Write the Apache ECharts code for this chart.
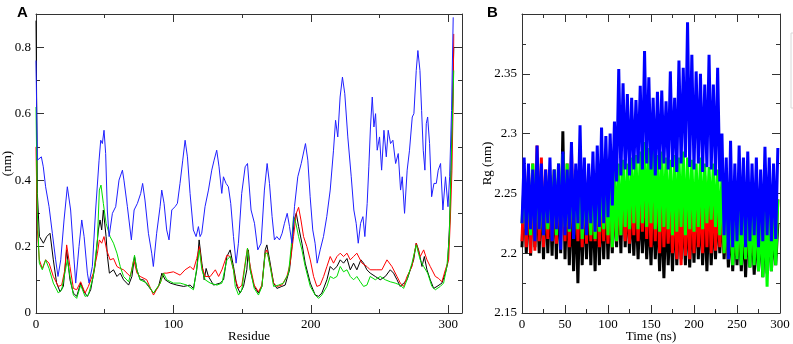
<!DOCTYPE html>
<html>
<head>
<meta charset="utf-8">
<script src="https://cdn.jsdelivr.net/npm/echarts@6/dist/echarts.min.js"></script>
<style>
  html, body { margin: 0; padding: 0; background: #fff; }
  #chart { width: 793px; height: 344px; }
</style>
</head>
<body>
<div id="chart"></div>
<script>
// ---- panel A: RMSF per residue, [residue, nm] ----
const rmsfBlack = [[0,0.88],[1,0.36],[2.5,0.23],[5.4,0.21],[7.8,0.23],[10.2,0.24],[12.6,0.16],[15,0.09],[17.5,0.064],[19.9,0.08],[22.3,0.19],[24.7,0.10],[27.2,0.06],[29.6,0.05],[32.5,0.09],[34.9,0.064],[37.4,0.05],[39.8,0.07],[42.9,0.14],[45.4,0.25],[46.6,0.28],[47.8,0.25],[49,0.31],[51,0.23],[52,0.17],[53.4,0.12],[56.4,0.13],[58.9,0.11],[61.3,0.12],[63.7,0.10],[67.4,0.084],[69.8,0.11],[71.7,0.17],[73.4,0.13],[75.8,0.10],[78.2,0.10],[81.9,0.08],[85.5,0.06],[89.2,0.08],[91.6,0.12],[94,0.10],[97.7,0.09],[102.5,0.084],[107.4,0.08],[112.2,0.084],[114.6,0.074],[117,0.13],[118.7,0.22],[120.7,0.15],[122.4,0.10],[123.8,0.134],[125.5,0.11],[129.2,0.084],[134,0.09],[136.5,0.10],[138.9,0.17],[141.3,0.19],[143.7,0.14],[146.2,0.08],[148.6,0.06],[151,0.08],[153.4,0.13],[154.5,0.19],[155.9,0.13],[158.8,0.08],[161.9,0.06],[164.4,0.08],[166.8,0.19],[168,0.205],[170,0.16],[172.9,0.09],[175.3,0.074],[178.9,0.08],[181.3,0.084],[184.5,0.13],[186.2,0.2],[187.9,0.28],[189.4,0.30],[191.1,0.26],[193.5,0.21],[195.9,0.15],[199.6,0.09],[203.2,0.054],[205.6,0.05],[208,0.06],[211.7,0.10],[214.1,0.14],[216.5,0.13],[219,0.14],[221.4,0.16],[223.8,0.15],[226.3,0.164],[228.7,0.13],[231.1,0.15],[233.5,0.13],[236.4,0.16],[238.4,0.15],[240.8,0.13],[243.2,0.12],[246.9,0.11],[250.5,0.10],[254.2,0.11],[257.8,0.13],[260.2,0.12],[262.7,0.10],[265.1,0.08],[267.5,0.09],[270,0.10],[272.4,0.13],[274.8,0.16],[276.7,0.21],[278.4,0.19],[280.9,0.14],[282.6,0.17],[284.5,0.13],[286.9,0.10],[289.4,0.074],[291.8,0.08],[295.4,0.09],[297.9,0.12],[299.6,0.15],[301.1,0.28],[302,0.43],[303,0.6],[304,0.8]];

const rmsfRed = [[0,0.5],[1,0.25],[2.4,0.16],[4.6,0.134],[7,0.16],[9.5,0.15],[12.6,0.11],[16.3,0.08],[18.7,0.084],[21,0.13],[22.3,0.205],[24.7,0.14],[27.2,0.074],[29.6,0.07],[32.5,0.094],[35.7,0.06],[38.1,0.08],[41.7,0.12],[44.7,0.18],[46.1,0.22],[47.8,0.21],[49.5,0.23],[51.4,0.19],[53.9,0.16],[56.4,0.164],[58.9,0.14],[61.3,0.134],[63.7,0.13],[66.2,0.12],[68.6,0.11],[71.1,0.16],[73.5,0.12],[75.8,0.11],[80.6,0.10],[85.5,0.054],[90.4,0.09],[92.8,0.12],[95.2,0.12],[100,0.124],[104.9,0.114],[108.5,0.13],[112.2,0.14],[114.6,0.13],[117,0.164],[118.9,0.2],[120.7,0.14],[123.1,0.11],[126.8,0.11],[130.5,0.13],[132.9,0.11],[135.3,0.13],[138.9,0.174],[141.3,0.17],[143.7,0.13],[145,0.10],[147.4,0.074],[149.8,0.084],[152.2,0.15],[153.9,0.195],[155.9,0.14],[158.8,0.084],[161.9,0.064],[164.4,0.084],[166.8,0.18],[168,0.19],[170,0.15],[172.9,0.09],[175.3,0.08],[178.9,0.084],[182.6,0.11],[185,0.15],[187.4,0.23],[189.4,0.30],[191.1,0.318],[192.8,0.28],[194.7,0.23],[197.1,0.20],[199.6,0.16],[202,0.11],[204.4,0.08],[206.8,0.084],[209.3,0.11],[211.7,0.14],[214.1,0.17],[216.5,0.15],[219,0.17],[221.4,0.18],[223.8,0.17],[226.3,0.18],[228.7,0.16],[231.1,0.17],[233.5,0.18],[237.2,0.15],[240.8,0.14],[243.2,0.13],[248.1,0.13],[251.7,0.13],[255.4,0.16],[259,0.14],[262.7,0.11],[265.1,0.09],[267.5,0.08],[270,0.11],[273.6,0.14],[276.7,0.21],[279.6,0.17],[282.1,0.19],[284.5,0.16],[286.9,0.14],[290.6,0.11],[293,0.104],[295.4,0.094],[297.9,0.13],[300.3,0.16],[301.5,0.28],[302.7,0.43],[303.5,0.62],[304,0.84]];

const rmsfGreen = [[0,0.62],[1,0.3],[2.4,0.15],[4.6,0.13],[7,0.16],[9.5,0.134],[12.6,0.09],[16.3,0.06],[18.7,0.07],[21,0.12],[22.8,0.16],[24.7,0.11],[27.2,0.054],[29.6,0.044],[32.5,0.084],[35.7,0.05],[38.1,0.054],[41.7,0.11],[44.7,0.22],[46.1,0.37],[47.3,0.385],[49,0.33],[51,0.27],[53.9,0.23],[56.4,0.21],[58.9,0.18],[61.3,0.14],[63.7,0.11],[67.4,0.094],[69.8,0.13],[71.7,0.174],[73.4,0.13],[75.8,0.10],[80.6,0.09],[85.5,0.06],[90.4,0.09],[92.8,0.12],[95.2,0.10],[100,0.09],[104.9,0.09],[109.8,0.084],[114.6,0.07],[117.5,0.15],[118.9,0.19],[120.7,0.13],[123.1,0.10],[126.8,0.09],[131.7,0.084],[135.3,0.09],[138.9,0.16],[141.3,0.17],[143.7,0.13],[145,0.08],[147.4,0.054],[149.8,0.07],[152.2,0.144],[153.9,0.195],[155.9,0.13],[158.8,0.074],[161.9,0.054],[164.4,0.08],[166.8,0.18],[168.5,0.18],[170.4,0.14],[172.9,0.08],[176.5,0.084],[180.1,0.09],[183.8,0.12],[185.7,0.2],[187.4,0.29],[189.1,0.27],[191.1,0.23],[193.5,0.19],[195.9,0.14],[199.6,0.08],[203.2,0.054],[205.6,0.044],[208,0.054],[211.7,0.08],[214.1,0.11],[216.5,0.104],[219,0.11],[221.4,0.14],[223.8,0.124],[226.3,0.13],[228.7,0.11],[231.1,0.10],[233.5,0.11],[236,0.094],[238.4,0.08],[240.8,0.084],[243.2,0.11],[246.9,0.10],[250.5,0.11],[254.2,0.10],[257.8,0.094],[261.4,0.09],[265.1,0.084],[267.5,0.074],[270,0.10],[273.6,0.15],[276.7,0.205],[279.6,0.16],[282.1,0.14],[285,0.12],[288.1,0.08],[290.6,0.07],[294.2,0.08],[296.6,0.09],[299,0.14],[300.8,0.23],[302,0.43],[303,0.58],[304,0.73]];

const rmsfBlue = [[0,0.76],[1,0.46],[3.9,0.47],[5.3,0.44],[7,0.38],[9.5,0.32],[11.9,0.24],[14.3,0.16],[16,0.11],[18,0.16],[20.4,0.28],[22.8,0.38],[25.2,0.31],[27.7,0.16],[28.9,0.09],[31.3,0.2],[33.3,0.28],[35,0.23],[37.4,0.12],[38.6,0.09],[41,0.14],[43.4,0.31],[45.9,0.46],[47.1,0.52],[48.3,0.51],[49.5,0.55],[50.7,0.48],[51.9,0.31],[53.2,0.23],[55.6,0.3],[58,0.32],[60.4,0.4],[62.9,0.43],[64,0.4],[66.5,0.32],[69.4,0.22],[71.4,0.31],[73.8,0.33],[76.2,0.36],[77.6,0.39],[79.3,0.34],[81.8,0.24],[84.2,0.18],[85.4,0.14],[87.8,0.24],[90.3,0.32],[91.5,0.37],[93.2,0.33],[95.1,0.25],[96.8,0.22],[98.8,0.31],[101.2,0.32],[102.9,0.33],[104.8,0.39],[106.8,0.46],[108.5,0.52],[110.2,0.47],[112.1,0.36],[114.5,0.25],[116.5,0.23],[118.2,0.26],[119.4,0.23],[120.6,0.24],[123,0.32],[125.5,0.37],[127.9,0.43],[129.6,0.46],[131.5,0.49],[133.2,0.44],[135.2,0.36],[136.4,0.41],[138.3,0.39],[140,0.38],[141.7,0.33],[143.7,0.23],[145.6,0.15],[147.3,0.21],[149.7,0.36],[152.2,0.44],[153.9,0.45],[156.5,0.31],[159,0.27],[161.4,0.19],[163.8,0.21],[166.2,0.37],[168.2,0.45],[169.9,0.39],[171.8,0.29],[173.5,0.22],[175.2,0.23],[177.2,0.22],[179.1,0.24],[180.8,0.27],[182.8,0.30],[184.5,0.26],[186.2,0.21],[188.1,0.32],[190.5,0.41],[193,0.45],[196.1,0.51],[197.8,0.46],[199.5,0.35],[201.4,0.25],[203.1,0.21],[204.6,0.15],[206.8,0.19],[209.2,0.23],[211.6,0.29],[214.1,0.37],[216.5,0.49],[218,0.58],[219.6,0.53],[221.3,0.65],[223,0.71],[224.7,0.66],[226.9,0.53],[229.4,0.41],[231.3,0.31],[233,0.27],[234.5,0.21],[236.2,0.27],[237.9,0.29],[239.3,0.23],[241,0.33],[242.2,0.44],[243.4,0.56],[244.7,0.65],[245.9,0.56],[247.1,0.60],[248.3,0.49],[250,0.53],[251.5,0.43],[253.2,0.55],[254.9,0.47],[256.3,0.55],[258,0.51],[259.7,0.52],[261.7,0.45],[263.6,0.48],[265.3,0.37],[266.5,0.41],[268.2,0.30],[270.1,0.43],[271.8,0.49],[273.8,0.59],[275,0.60],[276.7,0.73],[277.9,0.79],[279.4,0.73],[280.6,0.61],[281.8,0.49],[283,0.43],[284,0.57],[285,0.59],[286.4,0.51],[287.9,0.35],[289.6,0.39],[291.3,0.39],[292.7,0.43],[294.4,0.45],[296.1,0.31],[298,0.41],[299.8,0.32],[301,0.41],[302.4,0.61],[303.6,0.89]];

// ---- panel B: Rg vs time, low / high swings read every 5 ns ----
const RG_STEP = 5;
const rgBlackLo = [2.205,2.2,2.198,2.205,2.2,2.195,2.2,2.198,2.195,2.2,2.195,2.19,2.185,2.175,2.19,2.195,2.19,2.185,2.19,2.195,2.195,2.2,2.205,2.2,2.205,2.2,2.198,2.195,2.2,2.195,2.19,2.195,2.185,2.179,2.19,2.185,2.19,2.195,2.19,2.188,2.192,2.195,2.19,2.185,2.19,2.195,2.2,2.195,2.188,2.185,2.19,2.185,2.18,2.188,2.182,2.185,2.18,2.183,2.185,2.19];
const rgBlackHi = [2.255,2.25,2.258,2.25,2.26,2.255,2.25,2.26,2.255,2.302,2.255,2.25,2.245,2.25,2.248,2.25,2.245,2.25,2.248,2.25,2.245,2.25,2.255,2.27,2.25,2.245,2.24,2.245,2.24,2.238,2.242,2.24,2.235,2.24,2.235,2.24,2.238,2.235,2.24,2.235,2.238,2.24,2.235,2.238,2.235,2.24,2.238,2.23,2.228,2.225,2.23,2.225,2.228,2.225,2.22,2.225,2.22,2.225,2.22,2.225];
const rgRedLo = [2.21,2.205,2.2,2.202,2.21,2.205,2.212,2.21,2.208,2.215,2.21,2.205,2.212,2.21,2.205,2.208,2.21,2.21,2.205,2.21,2.208,2.205,2.21,2.215,2.21,2.208,2.215,2.21,2.218,2.212,2.205,2.21,2.2,2.205,2.208,2.2,2.195,2.19,2.198,2.195,2.2,2.205,2.2,2.205,2.2,2.202,2.205,2.2,2.195,2.2,2.198,2.2,2.195,2.2,2.198,2.195,2.2,2.195,2.198,2.2];
const rgRedHi = [2.265,2.27,2.275,2.29,2.28,2.27,2.265,2.27,2.265,2.27,2.275,2.286,2.27,2.265,2.27,2.265,2.27,2.265,2.26,2.265,2.25,2.255,2.25,2.255,2.25,2.258,2.26,2.262,2.265,2.26,2.27,2.275,2.262,2.255,2.25,2.255,2.25,2.26,2.255,2.262,2.255,2.25,2.265,2.258,2.255,2.25,2.25,2.245,2.25,2.245,2.24,2.245,2.25,2.245,2.24,2.245,2.24,2.245,2.24,2.245];
const rgGreenLo = [2.225,2.22,2.215,2.225,2.22,2.215,2.22,2.225,2.215,2.22,2.222,2.218,2.215,2.22,2.212,2.22,2.215,2.212,2.218,2.22,2.215,2.205,2.21,2.215,2.222,2.22,2.225,2.22,2.225,2.222,2.225,2.22,2.218,2.222,2.22,2.215,2.218,2.222,2.215,2.22,2.218,2.222,2.22,2.225,2.228,2.222,2.215,2.2,2.195,2.19,2.195,2.19,2.195,2.188,2.19,2.185,2.18,2.172,2.185,2.19];
const rgGreenHi = [2.26,2.265,2.275,2.27,2.26,2.265,2.262,2.27,2.275,2.283,2.275,2.272,2.265,2.268,2.26,2.262,2.265,2.26,2.262,2.265,2.27,2.275,2.275,2.278,2.275,2.28,2.282,2.285,2.293,2.288,2.29,2.282,2.285,2.28,2.278,2.282,2.28,2.285,2.28,2.278,2.275,2.28,2.275,2.272,2.275,2.27,2.265,2.24,2.245,2.24,2.25,2.245,2.248,2.25,2.245,2.24,2.245,2.24,2.238,2.245];
const rgBlueLo = [2.225,2.215,2.22,2.21,2.22,2.215,2.225,2.21,2.22,2.203,2.215,2.22,2.212,2.225,2.22,2.215,2.225,2.218,2.222,2.225,2.23,2.24,2.26,2.265,2.27,2.265,2.27,2.275,2.27,2.275,2.27,2.265,2.27,2.275,2.27,2.272,2.268,2.275,2.28,2.272,2.27,2.275,2.268,2.272,2.27,2.265,2.26,2.215,2.195,2.205,2.21,2.215,2.205,2.21,2.215,2.205,2.21,2.215,2.21,2.212];
const rgBlueHi = [2.28,2.275,2.27,2.29,2.275,2.27,2.28,2.27,2.275,2.285,2.27,2.293,2.275,2.307,2.28,2.275,2.285,2.29,2.305,2.298,2.3,2.31,2.354,2.342,2.333,2.33,2.328,2.34,2.369,2.347,2.33,2.335,2.336,2.327,2.352,2.33,2.361,2.355,2.393,2.366,2.352,2.35,2.341,2.366,2.341,2.355,2.3,2.28,2.294,2.275,2.29,2.28,2.285,2.275,2.28,2.27,2.289,2.28,2.275,2.288];

const LABEL_FONT = 'Liberation Serif';

// low at each step, high half a step later
function swing(lo, hi) {
    const pts = [];
    for (let i = 0; i < lo.length; i++) {
        pts.push([i * RG_STEP, lo[i]]);
        pts.push([i * RG_STEP + RG_STEP / 2, hi[i]]);
    }
    return pts;
}

// framed axes: main side with labels + opposite side, each with major and minor ticks
function frameAxes(grid, dim, min, max, major, minor, label, name) {
    const sides = dim === 'x' ? ['bottom', 'top'] : ['left', 'right'];
    const out = [];
    sides.forEach((pos, s) => {
        [major, minor].forEach((iv, m) => {
            const main = s === 0 && m === 0;
            const ax = {
                type: 'value', gridIndex: grid, position: pos,
                min: min, max: max, interval: iv,
                axisLine: {show: m === 0, onZero: false, lineStyle: {color: '#333', width: 1}},
                axisTick: {show: true, inside: true, length: m === 0 ? 8 : 4, lineStyle: {color: '#333'}},
                axisLabel: Object.assign({
                    show: main, color: '#000', fontFamily: LABEL_FONT, fontSize: 13, margin: 5
                }, label || {}),
                splitLine: {show: false}
            };
            if (main) {
                ax.name = name.text;
                ax.nameLocation = 'middle';
                ax.nameGap = name.gap;
                ax.nameMoveOverlap = false;
                ax.nameTextStyle = {color: '#000', fontFamily: LABEL_FONT, fontSize: 13};
            }
            out.push(ax);
        });
    });
    return out;
}

const xAxes = [].concat(
    frameAxes(0, 'x', 0, 310, 100, 50, {showMaxLabel: false}, {text: 'Residue', gap: 17}),
    frameAxes(1, 'x', 0, 300, 50, 25, {}, {text: 'Time (ns)', gap: 17})
);
const yAxes = [].concat(
    frameAxes(0, 'y', 0, 0.9, 0.2, 0.1, {showMaxLabel: false}, {text: '(nm)', gap: 22}),
    frameAxes(1, 'y', 2.15, 2.4, 0.05, 0.025, {showMaxLabel: false}, {text: 'Rg (nm)', gap: 28})
);

function line(data, color, grid, width) {
    return {
        type: 'line', data: data, xAxisIndex: grid * 4, yAxisIndex: grid * 4,
        showSymbol: false, symbol: 'none', silent: true,
        lineStyle: {color: color, width: width, join: 'bevel'}
    };
}

const chart = echarts.init(document.getElementById('chart'));
chart.setOption({
    animation: false,
    backgroundColor: '#fff',
    title: [
        {text: 'A', left: 12, top: 0, textStyle: {fontFamily: 'Liberation Sans', fontWeight: 'bold', fontSize: 15, color: '#000'}},
        {text: 'B', left: 482, top: 0, textStyle: {fontFamily: 'Liberation Sans', fontWeight: 'bold', fontSize: 15, color: '#000'}}
    ],
    grid: [
        {left: 36, top: 14, width: 426, height: 299, outerBoundsMode: 'none', containLabel: false},
        {left: 522, top: 14, width: 258, height: 299, outerBoundsMode: 'none', containLabel: false}
    ],
    xAxis: xAxes,
    yAxis: yAxes,
    graphic: [
        {type: 'rect', shape: {x: 791, y: 33, width: 30, height: 75}, style: {fill: '#fff', stroke: '#d8d8d8'}}
    ],
    series: [
        line(rmsfBlack, '#000000', 0, 1),
        line(rmsfRed, '#ff0000', 0, 1),
        line(rmsfGreen, '#00dd00', 0, 1),
        line(rmsfBlue, '#2020ff', 0, 1),
        line(swing(rgBlackLo, rgBlackHi), '#000000', 1, 3),
        line(swing(rgRedLo, rgRedHi), '#ff0000', 1, 3),
        line(swing(rgGreenLo, rgGreenHi), '#00ff00', 1, 3),
        line(swing(rgBlueLo, rgBlueHi), '#0000ff', 1, 3)
    ]
});
</script>
</body>
</html>
